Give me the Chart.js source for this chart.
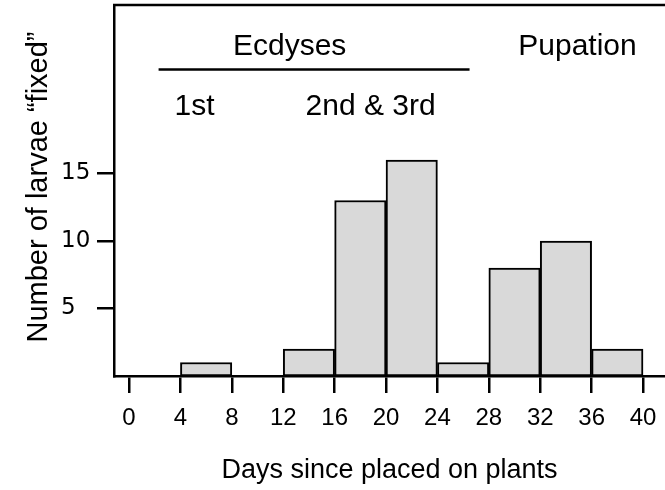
<!DOCTYPE html>
<html>
<head>
  <title>Larvae fixed by day</title>
  <script src="https://cdn.jsdelivr.net/npm/chart.js"></script>
  <style>
    html, body { margin: 0; padding: 0; background: #fff; }
    canvas { display: block; }
  </style>
</head>
<body>
  <canvas id="larvae" width="665" height="490"></canvas>
  <script>
    // 4-day bins: first day of each bin and number of larvae fixed in it
    const binStarts = [0, 4, 8, 12, 16, 20, 24, 28, 32, 36];
    const larvaeCounts = [0, 1, 0, 2, 13, 16, 1, 8, 10, 2];
    const binWidth = 4;

    const dayTicks = [0, 4, 8, 12, 16, 20, 24, 28, 32, 36, 40];
    const countTicks = [5, 10, 15];

    // stage notes over the plot, given in data units (day, count)
    const stageLabels = ['Ecdyses', '1st', '2nd & 3rd', 'Pupation'];
    const stageDays = [12.5, 5.1, 18.8, 34.9];
    const stageLevels = [23.8, 19.3, 19.3, 23.8];
    const ecdysisSpan = [2.3, 26.5];
    const ecdysisLevel = 22.7;

    const sans = '"Liberation Sans", Arial, sans-serif';

    const decorations = {
      id: 'decorations',
      afterDraw(chart) {
        const { ctx, chartArea, scales: { x, y } } = chart;
        ctx.save();
        ctx.strokeStyle = '#000';
        ctx.fillStyle = '#000';
        ctx.lineWidth = 2.5;

        // top edge of the frame
        ctx.beginPath();
        ctx.moveTo(chartArea.left - 1, chartArea.top);
        ctx.lineTo(chartArea.right, chartArea.top);
        ctx.stroke();

        // bar under "Ecdyses"
        ctx.beginPath();
        ctx.moveTo(x.getPixelForValue(ecdysisSpan[0]), y.getPixelForValue(ecdysisLevel));
        ctx.lineTo(x.getPixelForValue(ecdysisSpan[1]), y.getPixelForValue(ecdysisLevel));
        ctx.stroke();

        ctx.font = '30px ' + sans;
        ctx.textAlign = 'center';
        ctx.textBaseline = 'alphabetic';
        stageLabels.forEach((txt, i) => {
          ctx.fillText(txt, x.getPixelForValue(stageDays[i]), y.getPixelForValue(stageLevels[i]));
        });

        // rotated y axis title
        ctx.translate(47, 187);
        ctx.rotate(-Math.PI / 2);
        ctx.font = '29px ' + sans;
        ctx.fillText('Number of larvae \u201Cfixed\u201D', 0, 0);
        ctx.restore();
      }
    };

    const points = binStarts.map((d, i) => ({ x: d + binWidth / 2, y: larvaeCounts[i] }));

    new Chart(document.getElementById('larvae'), {
      type: 'bar',
      data: {
        datasets: [{
          data: points,
          backgroundColor: '#d9d9d9',
          borderColor: '#000',
          borderWidth: 2,
          borderSkipped: false,
          barPercentage: 1,
          categoryPercentage: 1
        }]
      },
      options: {
        responsive: false,
        animation: false,
        layout: { padding: { left: 61, top: 5, right: 0, bottom: 0 } },
        plugins: { legend: { display: false }, tooltip: { enabled: false } },
        scales: {
          x: {
            type: 'linear',
            offset: false,
            min: -1.17,
            max: 41.71,
            afterBuildTicks: s => { s.ticks = dayTicks.map(v => ({ value: v })); },
            afterFit: s => { s.height = 114; s.paddingLeft = 0; s.paddingRight = 0; },
            grid: { offset: false, drawOnChartArea: false, color: '#000', lineWidth: 2.5, tickLength: 17 },
            border: { color: '#000', width: 2.5 },
            ticks: { color: '#000', padding: 11, autoSkip: false, maxRotation: 0, font: { family: sans, size: 24 } },
            title: {
              display: true,
              text: 'Days since placed on plants',
              color: '#000',
              padding: { top: 0, bottom: 3 },
              font: { family: sans, size: 27 }
            }
          },
          y: {
            min: 0,
            max: 27.48,
            afterBuildTicks: s => { s.ticks = countTicks.map(v => ({ value: v })); },
            afterFit: s => { s.width = 53; s.paddingTop = 0; s.paddingBottom = 0; },
            grid: { drawOnChartArea: false, color: '#000', lineWidth: 2.5, tickLength: 17 },
            border: { color: '#000', width: 2.5 },
            ticks: { color: '#000', crossAlign: 'far', font: { family: '"DejaVu Sans", sans-serif', size: 23 } }
          }
        }
      },
      plugins: [decorations]
    });
  </script>
</body>
</html>
